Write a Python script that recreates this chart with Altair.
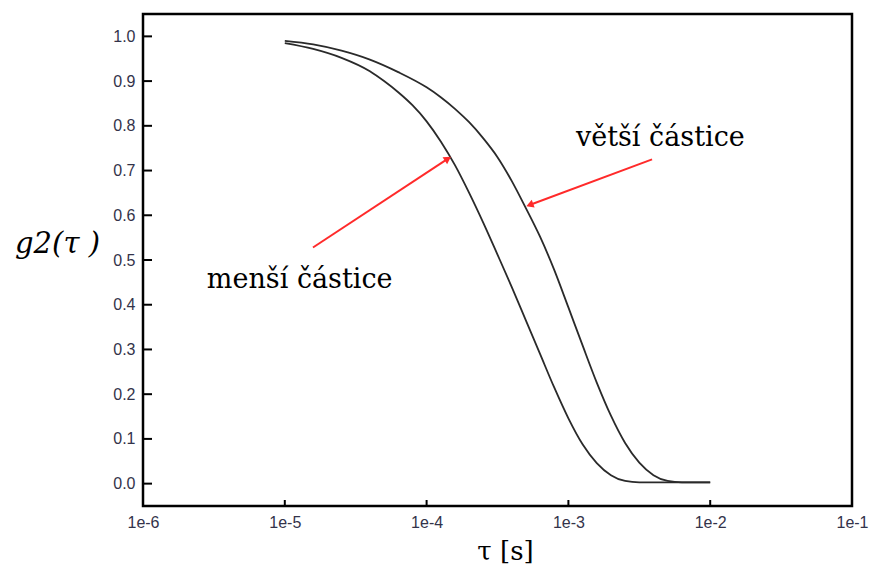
import altair as alt
import pandas as pd

# ---- data ----
log_tau_small = [-5.0, -4.8, -4.6, -4.4, -4.3, -4.2, -4.1, -4.0, -3.9, -3.8, -3.7, -3.6,
                 -3.5, -3.4, -3.3, -3.2, -3.1, -3.0, -2.9, -2.8, -2.7, -2.6, -2.5, -2.0]
g2_small = [0.985, 0.972, 0.952, 0.922, 0.900, 0.875, 0.846, 0.810, 0.765, 0.712, 0.650, 0.583,
            0.512, 0.440, 0.365, 0.290, 0.215, 0.146, 0.088, 0.046, 0.019, 0.006, 0.003, 0.003]

log_tau_large = [-5.0, -4.8, -4.6, -4.4, -4.2, -4.0, -3.9, -3.8, -3.7, -3.6, -3.5, -3.4,
                 -3.3, -3.2, -3.1, -3.0, -2.9, -2.8, -2.7, -2.6, -2.5, -2.4, -2.3, -2.2, -2.0]
g2_large = [0.990, 0.982, 0.968, 0.948, 0.920, 0.886, 0.864, 0.838, 0.808, 0.772, 0.730, 0.677,
            0.616, 0.552, 0.478, 0.394, 0.309, 0.226, 0.152, 0.091, 0.047, 0.019, 0.006, 0.003, 0.003]

series_names = ["menší částice", "větší částice"]

x_tick_values = [1e-6, 1e-5, 1e-4, 1e-3, 1e-2, 1e-1]
y_tick_values = [0.0, 0.1, 0.2, 0.3, 0.4, 0.5, 0.6, 0.7, 0.8, 0.9, 1.0]

# annotation anchors (data coordinates)
label_tau = [2.82e-6, 1.13e-3]
label_g2 = [0.438, 0.754]
arrow_tail_tau = [1.58e-5, 3.89e-3]
arrow_tail_g2 = [0.528, 0.725]
arrow_tip_tau = [1.39e-4, 5.44e-4]
arrow_tip_g2 = [0.725, 0.624]
arrow_angle = [56.7, 249.6]

# ---- tables ----
rows = []
for lt, g in zip(log_tau_small, g2_small):
    rows.append({"tau": 10 ** lt, "g2": g, "series": series_names[0]})
for lt, g in zip(log_tau_large, g2_large):
    rows.append({"tau": 10 ** lt, "g2": g, "series": series_names[1]})
curves = pd.DataFrame(rows)

ann = pd.DataFrame({
    "label": series_names,
    "ltau": label_tau, "lg2": label_g2,
    "t0": arrow_tail_tau, "g0": arrow_tail_g2,
    "t1": arrow_tip_tau, "g1": arrow_tip_g2,
    "angle": arrow_angle,
})
xt = pd.DataFrame({"tau": x_tick_values})
yt = pd.DataFrame({"g2": y_tick_values})

xscale = alt.Scale(type="log", domain=[1e-6, 1e-1])
yscale = alt.Scale(domain=[-0.05, 1.05])

lab_font = "Liberation Sans"
lab_color = "#33334a"

x_axis = alt.Axis(
    values=x_tick_values,
    labelExpr="'1e' + round(log(datum.value) / LN10)",
    ticks=False, domain=False, grid=False, labelFlush=False, labelOverlap=False,
    labelFont=lab_font, labelFontSize=16, labelColor=lab_color, labelPadding=8,
    title="τ [s]", titleFont="DejaVu Serif", titleFontSize=26,
    titleFontWeight="normal", titleColor="black",
    titleX=362, titleY=45, titleBaseline="middle", titleAlign="center",
)
y_axis = alt.Axis(
    values=y_tick_values, format=".1f",
    ticks=False, domain=False, grid=False, labelFlush=False, labelOverlap=False,
    labelFont=lab_font, labelFontSize=16, labelColor=lab_color, labelPadding=8,
    title="g2(τ )", titleFont="DejaVu Serif", titleFontSize=29,
    titleFontStyle="italic", titleFontWeight="normal", titleColor="black",
    titleAngle=0, titleX=-86, titleY=229, titleBaseline="middle", titleAlign="center",
)

lines = alt.Chart(curves).mark_line(
    color="#2a2a2a", strokeWidth=1.8, interpolate="monotone"
).encode(
    x=alt.X("tau:Q", scale=xscale, axis=x_axis),
    y=alt.Y("g2:Q", scale=yscale, axis=y_axis),
    detail="series:N",
)

# inward ticks on the left and bottom frame
y_ticks = alt.Chart(yt).mark_tick(
    color="black", thickness=2, size=9, orient="horizontal", opacity=1
).encode(
    y=alt.Y("g2:Q", scale=yscale),
    x=alt.value(4.5),
)
x_ticks = alt.Chart(xt).mark_tick(
    color="black", thickness=2, size=6, orient="vertical", opacity=1
).encode(
    x=alt.X("tau:Q", scale=xscale),
    y=alt.value(489),
)

arrows = alt.Chart(ann).mark_rule(color="#ff2a2a", strokeWidth=2).encode(
    x=alt.X("t0:Q", scale=xscale), x2="t1:Q",
    y=alt.Y("g0:Q", scale=yscale), y2="g1:Q",
)
heads = alt.Chart(ann).mark_point(
    shape="triangle", filled=True, color="#ff2a2a", size=70, opacity=1
).encode(
    x=alt.X("t1:Q", scale=xscale),
    y=alt.Y("g1:Q", scale=yscale),
    angle=alt.Angle("angle:Q", scale=None),
)
labels = alt.Chart(ann).mark_text(
    font="DejaVu Serif", fontSize=27, align="left", baseline="alphabetic", color="black"
).encode(
    x=alt.X("ltau:Q", scale=xscale),
    y=alt.Y("lg2:Q", scale=yscale),
    text="label:N",
)

chart = alt.layer(lines, y_ticks, x_ticks, arrows, heads, labels).properties(
    width=709, height=492,
    autosize=alt.AutoSizeParams(type="none"),
    padding={"left": 143, "top": 14, "right": 18, "bottom": 66},
).configure(
    background="white",
    view=alt.ViewConfig(stroke="black", strokeWidth=2.5),
)

chart.save("out.html", embed_options={"renderer": "svg", "actions": False})
